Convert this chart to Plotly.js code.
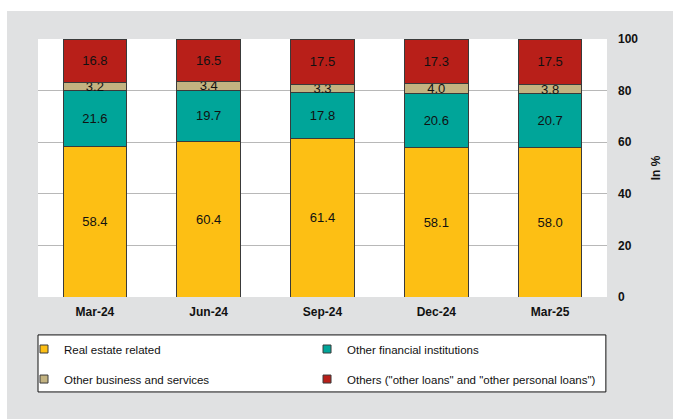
<!DOCTYPE html>
<html>
<head>
<meta charset="utf-8">
<script src="https://cdn.plot.ly/plotly-3.0.1.min.js"></script>
<style>
  html, body { margin: 0; padding: 0; background: #ffffff; }
  #chart { width: 673px; height: 419px; }
</style>
</head>
<body>
<div id="chart"></div>
<script>
// Quarter-end dates
const quarters = ['Mar-24', 'Jun-24', 'Sep-24', 'Dec-24', 'Mar-25'];

// Loan book shares by sector, in %
const realEstate = [58.4, 60.4, 61.4, 58.1, 58.0];
const otherFinancial = [21.6, 19.7, 17.8, 20.6, 20.7];
const otherBusiness = [3.2, 3.4, 3.3, 4.0, 3.8];
const others = [16.8, 16.5, 17.5, 17.3, 17.5];

const seriesNames = [
  'Real estate related',
  'Other financial institutions',
  'Other business and services',
  'Others ("other loans" and "other personal loans")'
];
const seriesValues = [realEstate, otherFinancial, otherBusiness, others];
const seriesColors = ['#FDBF14', '#00A599', '#C3B381', '#B81F19'];

const yTicks = [0, 20, 40, 60, 80, 100];

const FONT = 'Liberation Sans, Arial, sans-serif';
const OUTLINE = '#3a3a3a';

const traces = [];
seriesValues.forEach((vals, i) => {
  traces.push({
    type: 'bar',
    x: quarters,
    y: vals,
    name: seriesNames[i],
    showlegend: false,
    marker: { color: seriesColors[i], line: { color: OUTLINE, width: 1 } },
    texttemplate: '%{y:.1f}',
    textposition: 'inside',
    insidetextanchor: 'middle',
    constraintext: 'none',
    textfont: { family: FONT, size: 13, color: '#111111' },
    hovertemplate: '%{x}: %{y:.1f}%<extra>' + seriesNames[i] + '</extra>'
  });
});

// Legend: one entry per box, laid out as a 2 x 2 grid under the plot
const legendIds = ['legend', 'legend2', 'legend3', 'legend4'];
const legendX = [-0.0246, 0.4728, -0.0246, 0.4728];
const legendY = [-0.2016, -0.2016, -0.318, -0.318];

seriesValues.forEach((vals, i) => {
  traces.push({
    type: 'scatter',
    mode: 'markers',
    x: [null],
    y: [null],
    name: seriesNames[i],
    legend: legendIds[i],
    hoverinfo: 'skip',
    marker: { symbol: 'square', size: 8, color: seriesColors[i], line: { color: OUTLINE, width: 1 } }
  });
});

const layout = {
  width: 673,
  height: 419,
  margin: { l: 38, r: 66, t: 39, b: 122 },
  paper_bgcolor: '#E0E1E2',
  plot_bgcolor: '#ffffff',
  barmode: 'stack',
  bargap: 0.44,
  showlegend: true,
  font: { family: FONT, size: 12, color: '#111111' },
  xaxis: {
    type: 'category',
    showgrid: false,
    showline: false,
    zeroline: false,
    ticks: '',
    ticklabelstandoff: 6,
    tickfont: { family: FONT, size: 12, color: '#111111', weight: 'bold' },
    fixedrange: true
  },
  yaxis: {
    side: 'right',
    range: [0, 100],
    tickvals: yTicks,
    ticktext: yTicks.map(String),
    showgrid: true,
    gridcolor: '#B8B8B8',
    gridwidth: 1,
    zeroline: false,
    showline: false,
    ticks: '',
    ticklabelstandoff: 10,
    tickfont: { family: FONT, size: 12, color: '#111111', weight: 'bold' },
    title: { text: 'In %', standoff: 14, font: { family: FONT, size: 12, color: '#111111', weight: 'bold' } },
    fixedrange: true
  },
  shapes: [
    // white margin along the top and left edges
    { type: 'rect', xref: 'paper', yref: 'paper', x0: -0.07, x1: 1.12, y0: 1.1085, y1: 1.16,
      fillcolor: '#ffffff', line: { width: 0 }, layer: 'below' },
    { type: 'rect', xref: 'paper', yref: 'paper', x0: -0.07, x1: -0.0545, y0: -0.48, y1: 1.16,
      fillcolor: '#ffffff', line: { width: 0 }, layer: 'below' },
    // legend frame
    { type: 'rect', xref: 'paper', yref: 'paper', x0: 0, x1: 0.998, y0: -0.147, y1: -0.368,
      fillcolor: '#ffffff', line: { color: '#111111', width: 1 }, layer: 'below' }
  ]
};

legendIds.forEach((id, i) => {
  layout[id] = {
    orientation: 'v',
    xanchor: 'left',
    yanchor: 'middle',
    x: legendX[i],
    y: legendY[i],
    bgcolor: 'rgba(0,0,0,0)',
    borderwidth: 0,
    font: { family: FONT, size: 11.5, color: '#111111' }
  };
});

Plotly.newPlot('chart', traces, layout, { displayModeBar: false, staticPlot: true });
</script>
</body>
</html>
